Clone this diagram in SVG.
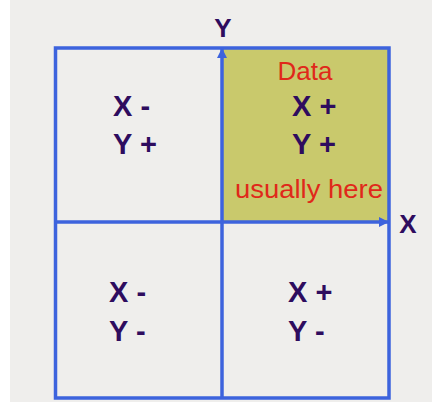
<svg xmlns="http://www.w3.org/2000/svg" width="432" height="408" viewBox="0 0 432 408">
<style>
.lbl{font-family:"Liberation Sans",Arial,sans-serif;font-weight:bold;fill:#2e0c5e;font-size:29px}
.ax{font-family:"Liberation Sans",Arial,sans-serif;font-weight:bold;fill:#2e0c5e;font-size:26px}
.red{font-family:"Liberation Sans",Arial,sans-serif;fill:#e0281a}
.line{stroke:#3d63dd;stroke-width:3.5;fill:none}
</style>
<defs>
<marker id="arr" viewBox="0 0 10 10" refX="10" refY="5" markerWidth="10" markerHeight="10" markerUnits="userSpaceOnUse" orient="auto">
<path d="M0,0 L10,5 L0,10 Z" fill="#3d63dd"/>
</marker>
</defs>
<rect x="0" y="0" width="432" height="408" fill="#ffffff"/>
<rect x="10" y="0" width="422" height="402" fill="#efeeec"/>
<g id="q1">
<rect x="222" y="48" width="167" height="174" fill="#c9c96c"/>
<text class="red" x="305" y="80" font-size="26" text-anchor="middle">Data</text>
<text class="lbl" x="292" y="116">X +</text>
<text class="lbl" x="292" y="154">Y +</text>
<text class="red" x="235" y="198" font-size="25" textLength="148" lengthAdjust="spacingAndGlyphs">usually here</text>
</g>
<g id="q2">
<text class="lbl" x="113" y="116">X -</text>
<text class="lbl" x="113" y="154">Y +</text>
</g>
<g id="q3">
<text class="lbl" x="109" y="302">X -</text>
<text class="lbl" x="109" y="341">Y -</text>
</g>
<g id="q4">
<text class="lbl" x="288" y="302">X +</text>
<text class="lbl" x="288" y="341">Y -</text>
</g>
<g id="frame">
<rect class="line" x="55.5" y="48" width="333.5" height="350"/>
</g>
<g id="connectors">
<line class="line" x1="222" y1="398" x2="222" y2="48" marker-end="url(#arr)"/>
<line class="line" x1="55.5" y1="222" x2="389" y2="222" marker-end="url(#arr)"/>
</g>
<g id="axis-labels">
<text class="ax" x="223" y="37" text-anchor="middle">Y</text>
<text class="ax" x="408" y="233" font-size="27" text-anchor="middle">X</text>
</g>
</svg>
